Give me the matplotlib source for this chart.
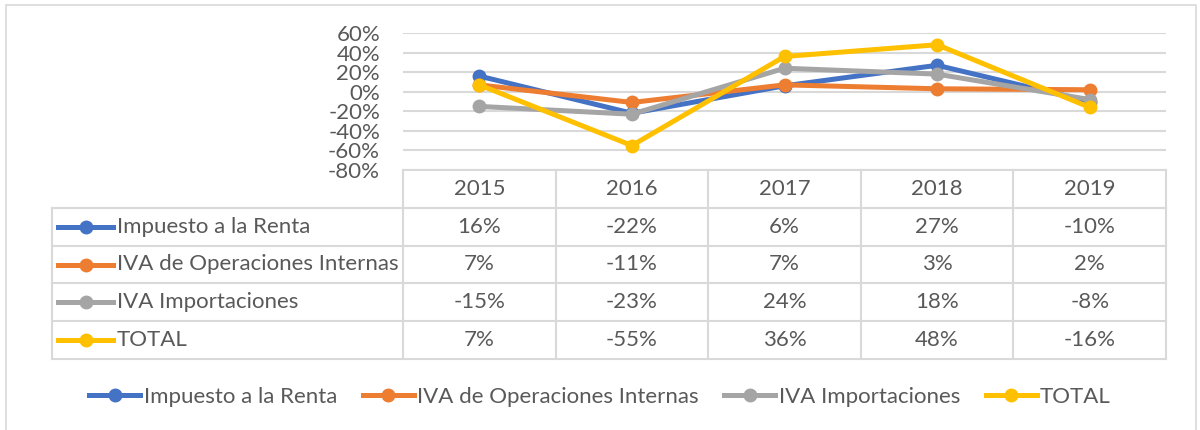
import numpy as np
import matplotlib.pyplot as plt
from matplotlib.lines import Line2D
from matplotlib.patches import Rectangle

years = ["2015", "2016", "2017", "2018", "2019"]
series_names = ["Impuesto a la Renta", "IVA de Operaciones Internas",
                "IVA Importaciones", "TOTAL"]
renta = [0.16, -0.22, 0.06, 0.27, -0.10]
iva_internas = [0.07, -0.11, 0.07, 0.03, 0.02]
iva_importaciones = [-0.15, -0.23, 0.24, 0.18, -0.08]
total = [0.07, -0.55, 0.36, 0.48, -0.16]
colors = ["#4472C4", "#ED7D31", "#A5A5A5", "#FFC000"]
yticks = [-0.8, -0.6, -0.4, -0.2, 0.0, 0.2, 0.4, 0.6]

series = [renta, iva_internas, iva_importaciones, total]

W, H = 1200, 430
TEXT = "#595959"
GRID = "#D9D9D9"
FS = 16
plt.rcParams["font.family"] = ["Lato", "DejaVu Sans"]

fig = plt.figure(figsize=(W / 100, H / 100), dpi=100)


def px_axes(x0, y0, x1, y1):
    return fig.add_axes([x0 / W, 1 - y1 / H, (x1 - x0) / W, (y1 - y0) / H])


# outer chart border
fig.patches.append(Rectangle((6 / W, -0.05), 1190 / W, 1.05 - 4.5 / H,
                             transform=fig.transFigure, fill=False,
                             edgecolor=GRID, lw=1.2))

# line plot
ax = px_axes(403, 33, 1166, 170)
x = np.arange(len(years))
for vals, c in zip(series, colors):
    ax.plot(x, vals, color=c, lw=3.6, marker="o", ms=9,
            solid_joinstyle="round", clip_on=False)
ax.set_xlim(-0.5, len(years) - 0.5)
ax.set_ylim(yticks[0], yticks[-1])
ax.set_yticks(yticks)
ax.set_yticklabels([f"{v * 100:.0f}%" for v in yticks])
ax.tick_params(axis="y", length=0, pad=16.5, labelsize=FS, labelcolor=TEXT)
ax.set_xticks([])
ax.grid(axis="y", color=GRID, lw=1.5)
ax.set_axisbelow(True)
for s in ax.spines.values():
    s.set_visible(False)

# data table
label_w = (403 - 52) / ((1166 - 403) / len(years))
xl = -0.5 - label_w
nrow = len(series)
tx = px_axes(52, 170, 1166, 359)
tx.set_xlim(xl, len(years) - 0.5)
tx.set_ylim(nrow + 1, 0)
tx.axis("off")
kw = dict(color=GRID, lw=1.5, clip_on=False)
tx.plot([-0.5, len(years) - 0.5], [0, 0], **kw)
for r in range(1, nrow + 2):
    tx.plot([xl, len(years) - 0.5], [r, r], **kw)
for k in range(len(years) + 1):
    tx.plot([-0.5 + k, -0.5 + k], [0, nrow + 1], **kw)
tx.plot([xl, xl], [1, nrow + 1], **kw)

for i, yr in enumerate(years):
    tx.text(i, 0.5, yr, ha="center", va="center", fontsize=FS, color=TEXT)
for r, (name, vals, c) in enumerate(zip(series_names, series, colors)):
    yc = r + 1.5
    tx.plot([xl + 0.04, xl + 0.40], [yc, yc], color=c, lw=3.6)
    tx.plot([xl + 0.22], [yc], color=c, marker="o", ms=9)
    tx.text(xl + 0.425, yc, name, ha="left", va="center", fontsize=FS,
            color=TEXT)
    for i, v in enumerate(vals):
        tx.text(i, yc, f"{v * 100:.0f}%", ha="center", va="center",
                fontsize=FS, color=TEXT)

# legend
handles = [Line2D([], [], color=c, lw=3.6, marker="o", ms=9) for c in colors]
fig.legend(handles, series_names, loc="center", ncol=4, frameon=False,
           bbox_to_anchor=(0.5, 1 - 397 / H), fontsize=FS,
           labelcolor=TEXT, handlelength=2.3, handletextpad=0.15,
           columnspacing=1.15)

fig.savefig("out.png", dpi=100)
